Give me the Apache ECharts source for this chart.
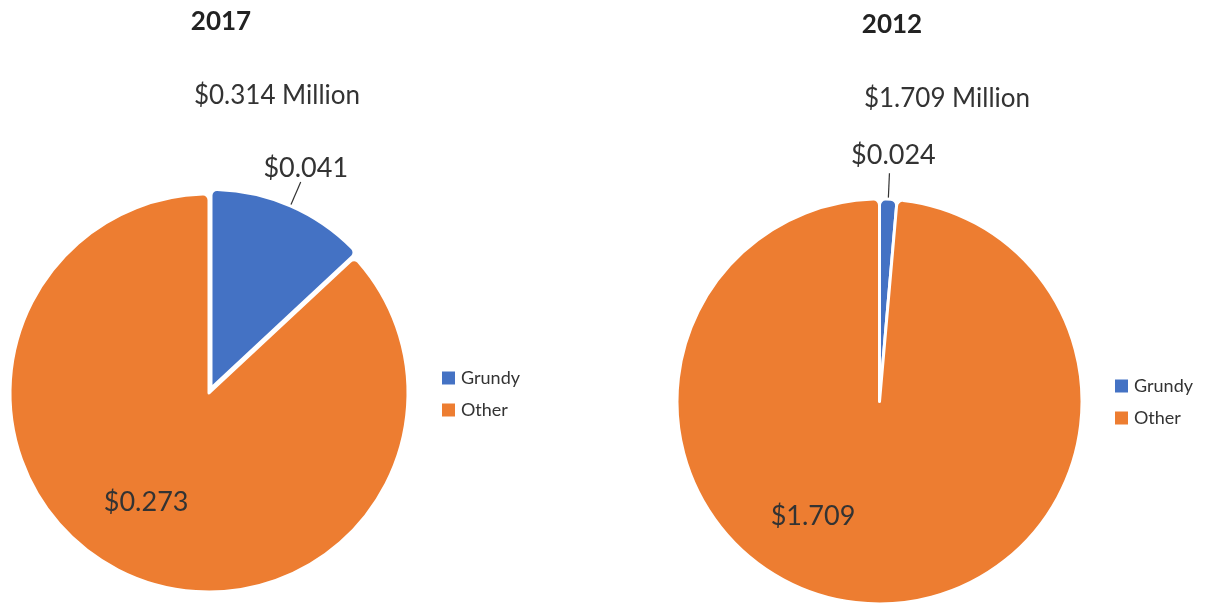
<!DOCTYPE html>
<html>
<head>
<meta charset="utf-8">
<script src="https://cdn.jsdelivr.net/npm/echarts@6/dist/echarts.min.js"></script>
<style>html,body{margin:0;padding:0;background:#fff;}#c{width:1208px;height:605px;}</style>
</head>
<body>
<div id="c"></div>
<script>
const categories = ['Grundy', 'Other'];
const values2017 = [0.041, 0.273];
const values2012 = [0.024, 1.709];
const years = ['2017', '2012'];
const totals = ['$0.314 Million', '$1.709 Million'];
const colors = ['#4472C4', '#ED7D31'];

const FONT = 'Lato, "Open Sans", sans-serif';
const chart = echarts.init(document.getElementById('c'));

function fmt(v) { return '$' + v.toFixed(3); }

function makeSeries(values, center, radius, innerOffset, explode) {
  return {
    type: 'pie',
    center: center,
    radius: radius,
    startAngle: 90,
    clockwise: true,
    selectedMode: 'single',
    selectedOffset: explode,
    animation: false,
    itemStyle: { borderColor: '#fff', borderWidth: 3, borderRadius: 6 },
    emphasis: { disabled: true },
    label: { fontFamily: FONT, fontSize: 27, color: '#333', formatter: p => fmt(p.value) },
    labelLine: { length: 26, length2: 0, lineStyle: { color: '#333', width: 1.2 } },
    labelLayout: function (p) {
      if (p.dataIndex === 1) return { dx: innerOffset[0], dy: innerOffset[1] };
      const pts = p.labelLinePoints;
      const end = pts[pts.length - 1];
      return { x: end[0] + 4, y: end[1] - 4, align: 'center', verticalAlign: 'bottom', labelLinePoints: pts };
    },
    data: categories.map((c, i) => ({
      name: c,
      value: values[i],
      selected: i === 0 && explode > 0,
      label: { position: i === 0 ? 'outside' : 'inside' },
      labelLine: { show: i === 0 }
    }))
  };
}

const titleBold = { fontFamily: FONT, fontSize: 26, fontWeight: 'bold', color: '#222' };
const titleNorm = { fontFamily: FONT, fontSize: 26, fontWeight: 'normal', color: '#333' };
const legendText = { fontFamily: FONT, fontSize: 18, color: '#333' };

const option = {
  color: colors,
  title: [
    { text: years[0], left: 216, top: 4, textAlign: 'center', textStyle: titleBold },
    { text: totals[0], left: 272, top: 78, textAlign: 'center', textStyle: titleNorm },
    { text: years[1], left: 887, top: 7, textAlign: 'center', textStyle: titleBold },
    { text: totals[1], left: 942, top: 81, textAlign: 'center', textStyle: titleNorm }
  ],
  legend: [
    { left: 435, top: 364, orient: 'vertical', icon: 'rect', itemWidth: 15, itemHeight: 15, itemGap: 14, selectedMode: false,
      data: categories, textStyle: legendText },
    { left: 1108, top: 372, orient: 'vertical', icon: 'rect', itemWidth: 15, itemHeight: 15, itemGap: 14, selectedMode: false,
      data: categories, textStyle: legendText }
  ],
  series: [
    makeSeries(values2017, [209, 393], 199, [-22, 15], 5),
    makeSeries(values2012, [879.5, 401.5], 202.5, [-62, 11], 0)
  ]
};
chart.setOption(option);
</script>
</body>
</html>
